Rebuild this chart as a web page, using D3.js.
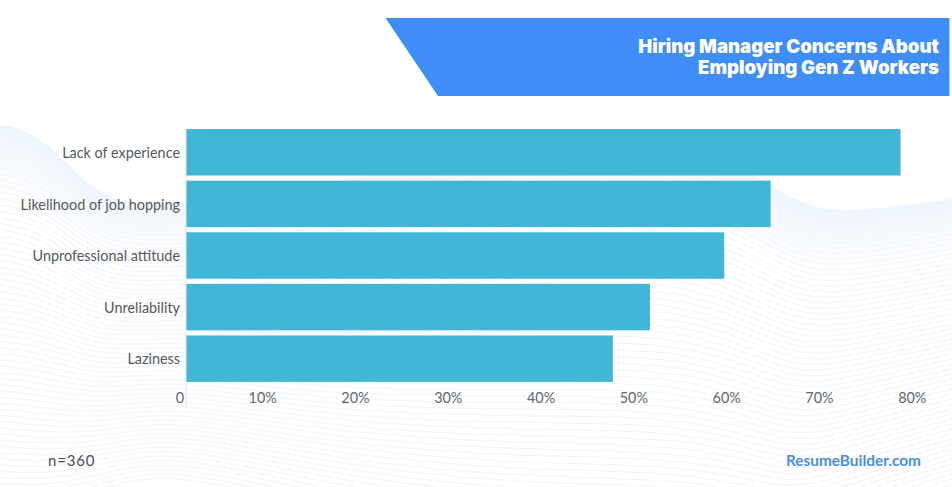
<!DOCTYPE html>
<html>
<head>
<meta charset="utf-8">
<script src="https://cdn.jsdelivr.net/npm/d3@7"></script>
<style>
html, body { margin: 0; padding: 0; background: #fff; overflow: hidden; }
svg { display: block; }
</style>
</head>
<body>
<svg id="chart" width="952" height="487"></svg>
<script>
var categories = ["Lack of experience", "Likelihood of job hopping", "Unprofessional attitude", "Unreliability", "Laziness"]
var values = [77, 63, 58, 50, 46]
var tickValues = [0, 10, 20, 30, 40, 50, 60, 70, 80]
var titleLines = ["Hiring Manager Concerns About", "Employing Gen Z Workers"]

var margin = { left: 186, top: 126.5, bottom: 384.5 }

var svg = d3.select("#chart")

//background waves, the outline follows the picture and each next line sits a bit lower
var waveLine = d3.line().curve(d3.curveBasis)
var wave = svg.append("g")

function wavePoints(k) {
    var s = k * 6.2
    return [
        [-20, 122 + s * 1.0],
        [40, 128 + s * 1.0],
        [100, 205 + s * 0.75],
        [170, 205 + s * 0.7],
        [330, 190 + s * 0.85],
        [520, 130 + s * 1.1],
        [700, 130 + s * 1.1],
        [790, 205 + s * 0.95],
        [850, 214 + s * 0.85],
        [970, 196 + s * 0.8]
    ]
}

var bandColor = d3.interpolateRgb("#eff5fd", "#ffffff")
d3.range(0, 11).forEach(function(k) {
    var top = wavePoints(k)
    var bottom = wavePoints(k + 1).reverse()
    wave.append("path")
        .attr("d", waveLine(top) + "L" + waveLine(bottom).slice(1) + "Z")
        .attr("fill", bandColor(k / 11))
})

d3.range(3, 62).forEach(function(k) {
    wave.append("path")
        .attr("d", waveLine(wavePoints(k)))
        .attr("fill", "none")
        .attr("stroke", "#f3f6fb")
        .attr("stroke-width", 1.2)
})

//title banner
svg.append("path")
    .attr("d", "M385.5,18H949.5V96H438Z")
    .attr("fill", "#3f8ef7")

var title = svg.append("text")
    .attr("text-anchor", "end")
    .attr("fill", "#ffffff")
    .style("font-family", "Inter, 'Open Sans', sans-serif")
    .style("font-size", "18.6px")
    .style("font-weight", "900")
title.selectAll("tspan")
    .data(titleLines)
    .enter().append("tspan")
    .attr("x", 939)
    .attr("y", function(d, i) { return 53 + i * 21 })
    .text(function(d) { return d })

//scales
var x = d3.scaleLinear().domain([0, 80]).range([margin.left, margin.left + 742.4])
var y = d3.scaleBand().domain(categories).range([margin.top, margin.bottom]).paddingInner(0.1).paddingOuter(0.05)

//bars
svg.append("g")
    .selectAll("rect")
    .data(values)
    .enter().append("rect")
    .attr("x", x(0))
    .attr("y", function(d, i) { return y(categories[i]) })
    .attr("width", function(d) { return x(d) - x(0) })
    .attr("height", y.bandwidth())
    .attr("fill", "#41b6d6")

//axis line
svg.append("line")
    .attr("x1", x(0)).attr("x2", x(0))
    .attr("y1", 127).attr("y2", 408)
    .attr("stroke", "#e6e9ee")

//y labels
var yAxis = d3.axisLeft(y).tickSize(0).tickPadding(6)
var yg = svg.append("g").attr("transform", "translate(" + x(0) + ",1)").call(yAxis)
yg.select(".domain").remove()
yg.selectAll("text")
    .attr("fill", "#55595e")
    .style("font-family", "Lato, sans-serif")
    .style("font-size", "14.4px")

//x labels sit to the left of their tick
var xAxis = d3.axisBottom(x).tickValues(tickValues).tickSize(0)
    .tickFormat(function(d) { return d === 0 ? "0" : d + "%" })
var xg = svg.append("g").attr("transform", "translate(0,392.5)").call(xAxis)
xg.select(".domain").remove()
xg.selectAll("text")
    .attr("text-anchor", "end")
    .attr("dx", "-2.5")
    .attr("y", 0)
    .attr("dy", "0.71em")
    .attr("fill", "#63676c")
    .style("font-family", "Lato, sans-serif")
    .style("font-size", "14.4px")

//footer
svg.append("text")
    .attr("x", 48).attr("y", 466)
    .attr("fill", "#4b4f54")
    .style("font-family", "Lato, sans-serif")
    .style("font-size", "15px")
    .style("letter-spacing", "0.8px")
    .text("n=360")

svg.append("text")
    .attr("x", 921).attr("y", 466)
    .attr("text-anchor", "end")
    .attr("fill", "#4a8fdc")
    .style("font-family", "Lato, sans-serif")
    .style("font-size", "15.4px")
    .style("font-weight", "700")
    .text("ResumeBuilder.com")
</script>
</body>
</html>
